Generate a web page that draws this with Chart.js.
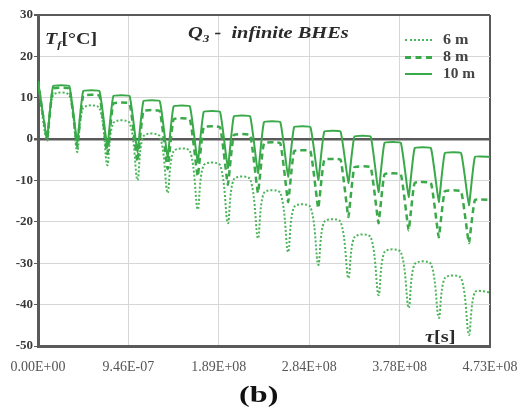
<!DOCTYPE html>
<html lang="en">
<head>
    <meta charset="UTF-8"/>
    <title>Q3 - infinite BHEs</title>
    <script src="https://cdn.jsdelivr.net/npm/chart.js@4.4.0/dist/chart.umd.min.js"></script>
    <style>
        body { margin: 0; background: #fff; }
        #wrap { position: relative; width: 518px; height: 408px; font-family: "Liberation Serif", "Times New Roman", serif; }
        #chart { position: absolute; left: 0; top: 0; }
        .lbl { position: absolute; color: #2a2a2a; font-weight: bold; white-space: nowrap; line-height: 1; transform-origin: 0 50%; }
        .leg { position: absolute; left: 405px; width: 27px; height: 0; }
    </style>
</head>
<body>

<div id="wrap">
    <canvas id="chart" width="518" height="408"></canvas>

    <div class="lbl" style="left:45px; top:31px; font-size:16px; transform:scaleX(1.25);"><i>T<sub style="font-size:10px">f</sub></i>[°C]</div>
    <div class="lbl" style="left:188px; top:24px; font-size:17px; font-style:italic; transform:scaleX(1.2);">Q<sub style="font-size:11px">3</sub> -&nbsp; infinite BHEs</div>

    <div class="leg" style="top:39px; border-top:2px dotted #4cb55a;"></div>
    <div class="leg" style="top:56px; border-top:3px dashed #3aa94a;"></div>
    <div class="leg" style="top:73px; border-top:2px solid #3aa94a;"></div>
    <div class="lbl" style="left:443px; top:33px; font-size:14px; color:#444; transform:scaleX(1.15);">6 m</div>
    <div class="lbl" style="left:443px; top:50px; font-size:14px; color:#444; transform:scaleX(1.15);">8 m</div>
    <div class="lbl" style="left:443px; top:67px; font-size:14px; color:#444; transform:scaleX(1.1);">10 m</div>

    <div class="lbl" style="left:425px; top:328px; font-size:17px; transform:scaleX(1.2);"><i>τ</i>[s]</div>
    <div class="lbl" style="left:239px; top:383px; font-size:23px; color:#111; transform:scaleX(1.4);">(b)</div>
</div>

<script>

    // x axis runs in years (0..15), labels are the seconds shown on the figure
    const xTickLabels = ['0.00E+00', '9.46E-07', '1.89E+08', '2.84E+08', '3.78E+08', '4.73E+08'];

    const startTemp = 14;

    // where in each yearly cycle the dip / plateau sit (years)
    const dipAt = 0.30;
    const plateauFrom = 0.50;
    const plateauTo = 1.04;

    // 6 m spacing
    const high6 = [10.6, 7.5, 3.9, 0.7, -2.9, -6.3, -9.7, -13, -16.4, -20, -23.7, -27.3, -30.2, -33.6, -37];
    const low6 = [-0.3, -3.1, -6.3, -9.9, -13, -17, -20.3, -24, -27.3, -30.4, -33.6, -37.7, -40.8, -43.2, -47.3];

    // 8 m spacing
    const high8 = [12.2, 10.5, 8.6, 6.8, 4.8, 2.9, 1, -1, -2.9, -5, -6.8, -8.5, -10.6, -12.6, -14.7];
    const low8 = [0, -1.8, -3.6, -5.4, -7.2, -9, -11, -13, -15.2, -16.7, -18.8, -20.3, -22, -23.7, -25.1];

    // 10 m spacing
    const high10 = [12.8, 11.6, 10.4, 9.2, 7.9, 6.6, 5.5, 4.1, 2.9, 1.8, 0.6, -0.9, -2.2, -3.4, -4.3];
    const low10 = [0.3, -0.7, -1.9, -3.1, -4.4, -5.6, -7, -8.2, -9.1, -9.9, -10.6, -12.8, -14, -15.2, -16];

    function cycles(highs, lows) {
        const pts = [{x: 0, y: startTemp}];
        for (let k = 0; k < highs.length; k++) {
            pts.push({x: k + dipAt, y: lows[k]});
            pts.push({x: k + plateauFrom, y: highs[k]});
            pts.push({x: Math.min(k + plateauTo, 15), y: highs[k]});
        }
        return pts;
    }

    const dark = '#5a5a5a';
    const light = '#d6d6d6';

    const ctx = document.getElementById('chart').getContext('2d');
    new Chart(ctx, {
        type: 'line',
        data: {
            datasets: [
                {
                    label: '6 m',
                    data: cycles(high6, low6),
                    borderColor: '#4cb55a',
                    borderWidth: 2,
                    borderDash: [2, 2],
                    tension: 0.3,
                    pointRadius: 0,
                    order: 3
                },
                {
                    label: '8 m',
                    data: cycles(high8, low8),
                    borderColor: '#3aa94a',
                    borderWidth: 2.5,
                    borderDash: [6, 4],
                    tension: 0.1,
                    pointRadius: 0,
                    order: 2
                },
                {
                    label: '10 m',
                    data: cycles(high10, low10),
                    borderColor: '#3aa94a',
                    borderWidth: 2,
                    tension: 0.1,
                    pointRadius: 0,
                    order: 1
                }
            ]
        },
        options: {
            responsive: false,
            animation: false,
            layout: {
                padding: {top: 15, right: 28, left: 0, bottom: 0}
            },
            scales: {
                x: {
                    type: 'linear',
                    min: 0,
                    max: 15,
                    afterFit: s => {
                        s.height = 62;
                        s.paddingLeft = 0;
                        s.paddingRight = 0;
                    },
                    ticks: {
                        stepSize: 3,
                        padding: 13,
                        maxRotation: 0,
                        color: '#555',
                        font: {family: 'Liberation Serif', size: 14},
                        callback: v => xTickLabels[v / 3]
                    },
                    grid: {
                        color: c => (c.tick && c.tick.value === 15) ? dark : light,
                        lineWidth: c => (c.tick && c.tick.value === 15) ? 2 : 1,
                        drawTicks: false
                    },
                    border: {color: dark, width: 3}
                },
                y: {
                    min: -50,
                    max: 30,
                    afterFit: s => { s.width = 38; },
                    ticks: {
                        stepSize: 10,
                        padding: 1,
                        color: '#3a3a3a',
                        font: {family: 'Liberation Serif', size: 13, weight: 'bold'}
                    },
                    grid: {
                        color: c => {
                            const v = c.tick && c.tick.value;
                            return (v === 0 || v === 30) ? dark : light;
                        },
                        lineWidth: c => {
                            const v = c.tick && c.tick.value;
                            if (v === 0) return 2.5;
                            if (v === 30) return 2;
                            return 1;
                        },
                        tickLength: 4,
                        tickColor: dark
                    },
                    border: {color: dark, width: 3}
                }
            },
            plugins: {
                legend: {display: false},
                tooltip: {enabled: false}
            }
        }
    });

</script>

</body>
</html>
